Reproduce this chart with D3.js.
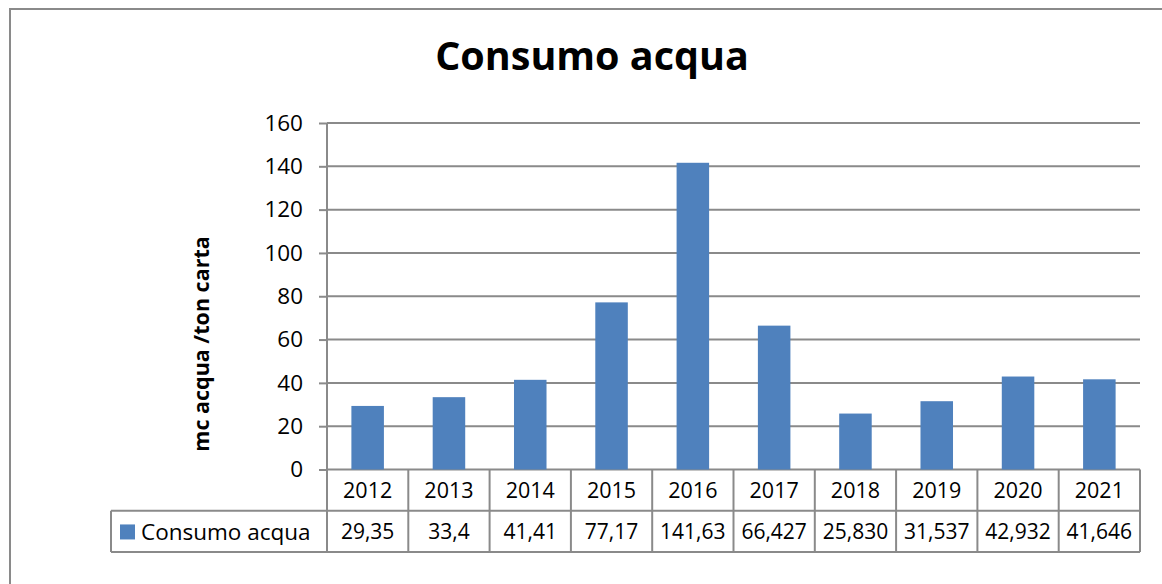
<!DOCTYPE html>
<html>
<head>
<meta charset="utf-8">
<script src="https://cdn.jsdelivr.net/npm/d3@7"></script>
<style>
  body { margin: 0; background: #fff; }
  svg { display: block; font-family: "Open Sans", sans-serif; }
</style>
</head>
<body>
<div id="chart"></div>
<script>
// chart data
var years = ["2012", "2013", "2014", "2015", "2016", "2017", "2018", "2019", "2020", "2021"];
var consumo = [29.35, 33.4, 41.41, 77.17, 141.63, 66.427, 25.830, 31.537, 42.932, 41.646];
var consumoLabels = ["29,35", "33,4", "41,41", "77,17", "141,63", "66,427", "25,830", "31,537", "42,932", "41,646"];
var yTicks = [0, 20, 40, 60, 80, 100, 120, 140, 160];
var seriesName = "Consumo acqua";

var width = 1162, height = 584;
var plot = {left: 327, right: 1140, top: 123, bottom: 469.5};
var rowH = 41.3;
var legendLeft = 111;
var gridColor = "#8a8a8a";
var barColor = "#4f81bd";

var svg = d3.select("#chart").append("svg")
    .attr("width", width)
    .attr("height", height);

// outer frame (runs off right and bottom)
svg.append("rect")
    .attr("x", 10).attr("y", 9)
    .attr("width", 1200).attr("height", 620)
    .attr("fill", "none")
    .attr("stroke", gridColor)
    .attr("stroke-width", 2);

svg.append("text")
    .attr("x", 592).attr("y", 70)
    .attr("text-anchor", "middle")
    .attr("font-size", 39.5)
    .attr("font-weight", "bold")
    .text("Consumo acqua");

var x = d3.scaleBand()
    .domain(years)
    .range([plot.left, plot.right])
    .paddingInner(0.6)
    .paddingOuter(0.3);

var xCell = d3.scaleBand()
    .domain(years)
    .range([plot.left, plot.right]);

var y = d3.scaleLinear()
    .domain([0, 160])
    .range([plot.bottom, plot.top]);

// gridlines + y axis
var yAxis = d3.axisLeft(y)
    .tickValues(yTicks)
    .tickSize(8)
    .tickPadding(16);

var gy = svg.append("g")
    .attr("transform", "translate(" + plot.left + ",0)")
    .call(yAxis);
gy.select(".domain").remove();
gy.selectAll(".tick line").attr("stroke", gridColor).attr("stroke-width", 2);
gy.selectAll(".tick text")
    .attr("font-size", 22.5)
    .attr("fill", "#000")
    .attr("font-family", "Open Sans, sans-serif");

svg.append("g")
    .selectAll("line")
    .data(yTicks)
    .enter()
    .append("line")
    .attr("x1", plot.left).attr("x2", plot.right)
    .attr("y1", function(d) { return y(d); })
    .attr("y2", function(d) { return y(d); })
    .attr("stroke", gridColor)
    .attr("stroke-width", 2);

// bars
svg.append("g")
    .selectAll("rect")
    .data(consumo)
    .enter()
    .append("rect")
    .attr("x", function(d, i) { return x(years[i]); })
    .attr("y", function(d) { return y(d); })
    .attr("width", x.bandwidth())
    .attr("height", function(d) { return y(0) - y(d); })
    .attr("fill", barColor);

// axis line
svg.append("line")
    .attr("x1", plot.left).attr("x2", plot.left)
    .attr("y1", plot.top).attr("y2", plot.bottom + 2 * rowH)
    .attr("stroke", gridColor)
    .attr("stroke-width", 2);

svg.append("text")
    .attr("transform", "translate(209," + 344 + ") rotate(-90)")
    .attr("text-anchor", "middle")
    .attr("font-size", 21.5)
    .attr("font-weight", "bold")
    .text("mc acqua /ton carta");

// data table
var table = svg.append("g");

function hline(x1, x2, yy) {
  table.append("line")
      .attr("x1", x1).attr("x2", x2)
      .attr("y1", yy).attr("y2", yy)
      .attr("stroke", gridColor).attr("stroke-width", 2);
}
function vline(xx, y1, y2) {
  table.append("line")
      .attr("x1", xx).attr("x2", xx)
      .attr("y1", y1).attr("y2", y2)
      .attr("stroke", gridColor).attr("stroke-width", 2);
}

hline(legendLeft, plot.right, plot.bottom + rowH);
hline(legendLeft, plot.right, plot.bottom + 2 * rowH);
vline(legendLeft, plot.bottom + rowH, plot.bottom + 2 * rowH);
years.forEach(function(yr) {
  vline(xCell(yr) + xCell.bandwidth(), plot.bottom, plot.bottom + 2 * rowH);
});

table.selectAll(".yr")
    .data(years)
    .enter()
    .append("text")
    .attr("class", "yr")
    .attr("x", function(d) { return xCell(d) + xCell.bandwidth() / 2; })
    .attr("y", plot.bottom + rowH / 2)
    .attr("dy", "0.36em")
    .attr("text-anchor", "middle")
    .attr("font-size", 21.5)
    .text(function(d) { return d; });

table.selectAll(".val")
    .data(consumoLabels)
    .enter()
    .append("text")
    .attr("class", "val")
    .attr("x", function(d, i) { return xCell(years[i]) + xCell.bandwidth() / 2; })
    .attr("y", plot.bottom + rowH * 1.5)
    .attr("dy", "0.36em")
    .attr("text-anchor", "middle")
    .attr("font-size", 21)
    .text(function(d) { return d; });

table.append("rect")
    .attr("x", 120).attr("y", plot.bottom + rowH * 1.5 - 7)
    .attr("width", 15).attr("height", 15)
    .attr("fill", barColor);

table.append("text")
    .attr("x", 141)
    .attr("y", plot.bottom + rowH * 1.5)
    .attr("dy", "0.36em")
    .attr("font-size", 22.5)
    .text(seriesName);
</script>
</body>
</html>
